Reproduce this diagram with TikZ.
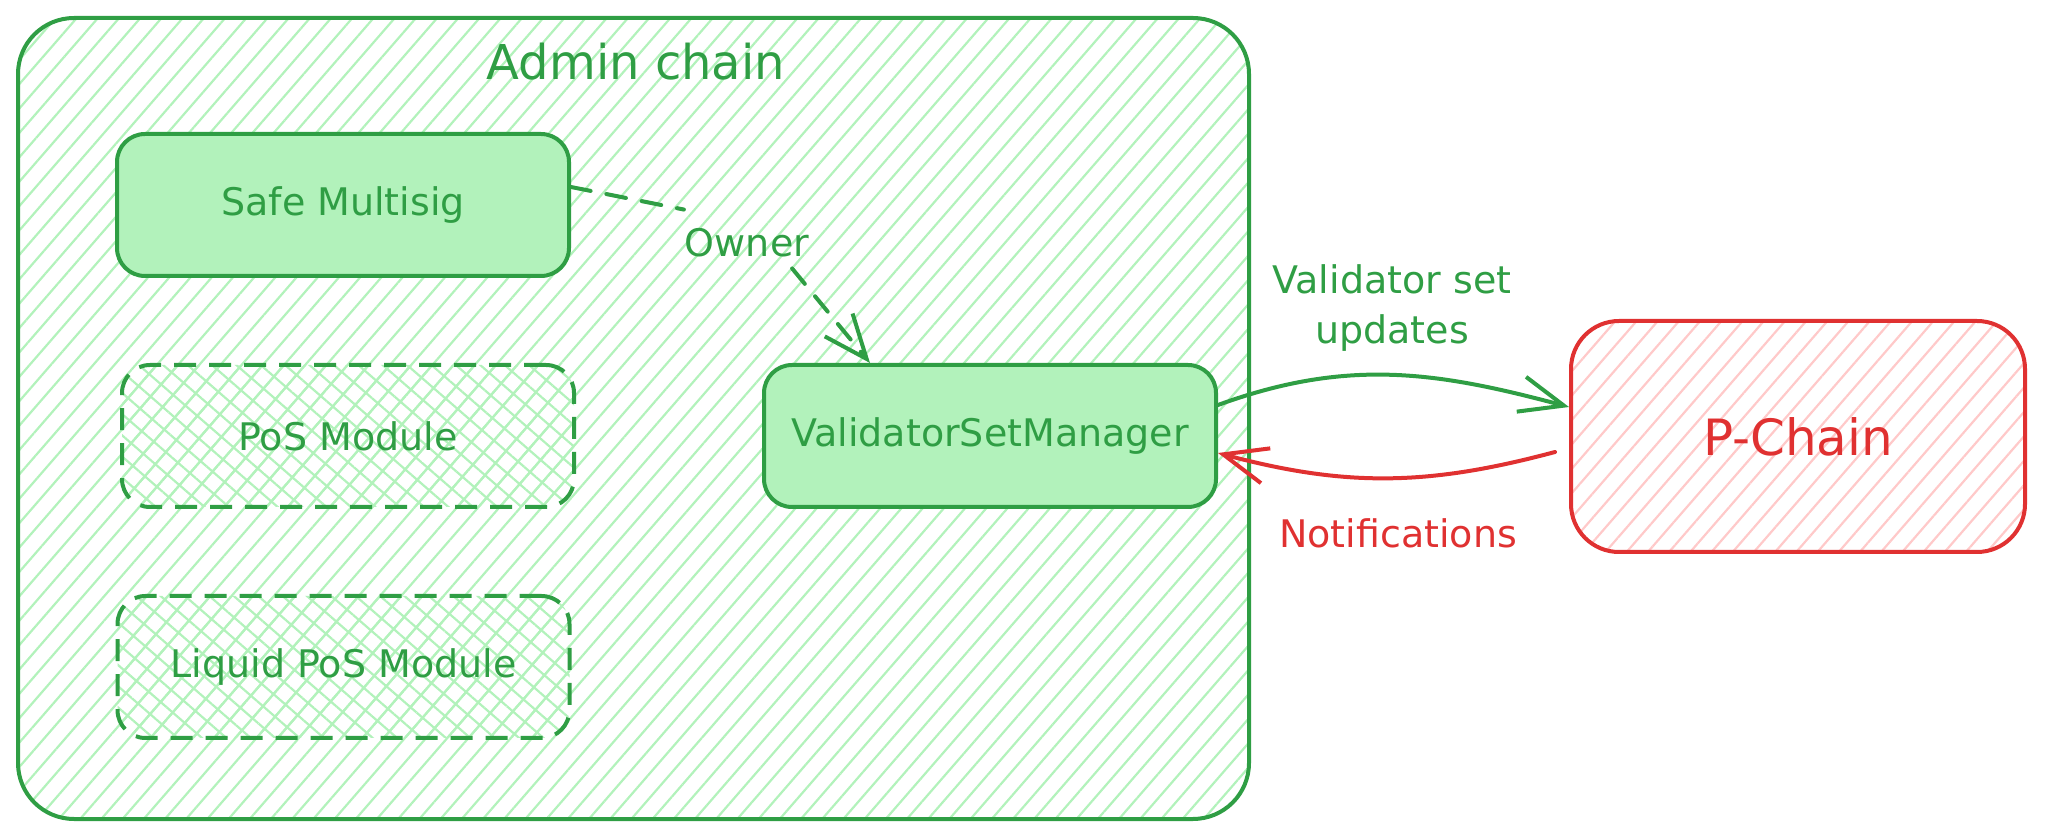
\documentclass[tikz,border=0pt]{standalone}
\usepackage{fontspec}
\setmainfont{DejaVu Sans}
\usetikzlibrary{arrows.meta,patterns.meta}
\definecolor{exgreen}{HTML}{2F9E44}
\definecolor{exfill}{HTML}{B2F2BB}
\definecolor{exred}{HTML}{E03131}
\definecolor{exredfill}{HTML}{FFC9C9}

\begin{document}
\begin{tikzpicture}[x=0.5pt,y=0.5pt,
    txt/.style={text=exgreen,font=\fontsize{19}{25}\selectfont},
    box/.style={txt,draw=exgreen,line width=2pt,rounded corners=14pt,fill=exfill,
      minimum width=226pt,minimum height=71pt,inner sep=0pt},
    dashbox/.style={box,fill=none,dash pattern=on 11pt off 6.5pt,
      pattern={Hatch[distance=8pt,angle=49,line width=1.1pt]},pattern color=exfill},
    chainbox/.style={draw=#1,line width=2pt,inner sep=0pt},
    barb/.style={-{Straight Barb[length=22pt,width=18pt]}},
    link/.style={line width=2pt,line cap=round}]
  \useasboundingbox (0,0) rectangle (2045,-838);

  % admin chain
  \node[chainbox=exgreen,rounded corners=28pt,minimum width=615.5pt,minimum height=400.5pt,
    pattern={Lines[distance=8pt,angle=49,line width=1.1pt]},pattern color=exfill]
    (admin) at (633.5,-418.5) {};
  \node[txt,font=\fontsize{24}{28}\selectfont] (title) at (636,-62) {Admin chain};

  \node[box] (safe) at (343,-205) {Safe Multisig};
  \node[dashbox] (pos) at (348,-436) {PoS Module};
  \node[dashbox] (lpos) at (343.5,-667) {Liquid PoS Module};
  \node[box] (vsm) at (990,-436) {ValidatorSetManager};

  % p-chain
  \node[chainbox=exred,rounded corners=24pt,minimum width=227pt,minimum height=115.5pt,
    pattern={Lines[distance=8pt,angle=49,line width=1.1pt]},pattern color=exredfill,
    text=exred,font=\fontsize{25}{30}\selectfont] (pchain) at (1798,-436.5) {P-Chain};

  % labels
  \node[txt] (owner) at (747,-243) {Owner};
  \node[txt,align=center] (upd) at (1392,-308) {Validator set\\updates};
  \node[txt,text=exred] (notif) at (1398,-533) {Notifications};

  % connectors
  \draw[link,exgreen,dash pattern=on 10pt off 8pt] ([yshift=9pt]safe.east) -- ([shift={(3pt,6pt)}]owner.north west);
  \draw[link,exgreen,dash pattern=on 10pt off 8pt,barb] ([shift={(-12pt,-2pt)}]owner.south east) -- ([xshift=-60pt]vsm.north);
  \draw[link,exgreen,barb] ([yshift=15.5pt]vsm.east) to[out=20,in=165] ([yshift=14.75pt]pchain.west);
  \draw[link,exred,barb] ([shift={(-7pt,-7.75pt)}]pchain.west) to[out=-165,in=-15] ([yshift=-8.5pt]vsm.east);
\end{tikzpicture}
\end{document}
